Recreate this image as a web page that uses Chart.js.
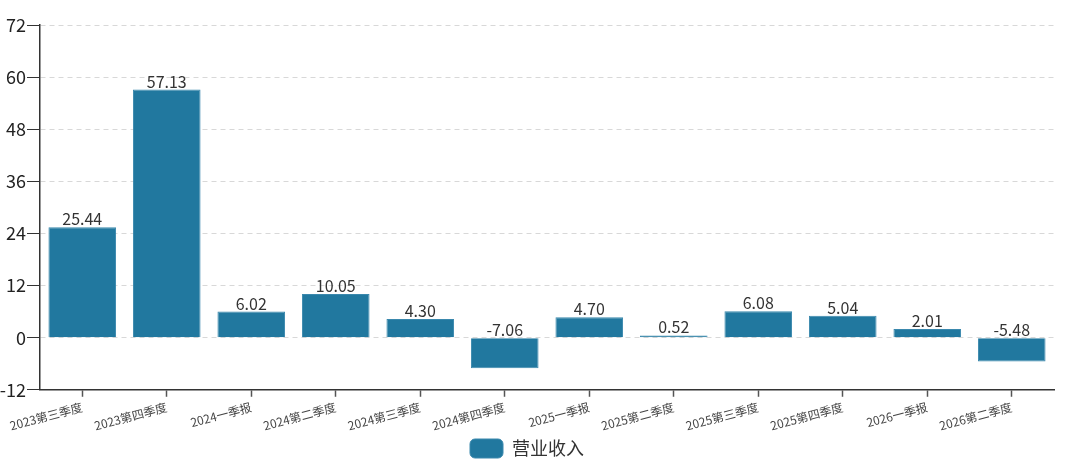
<!DOCTYPE html>
<html>
<head>
<meta charset="utf-8">
<script src="https://cdn.jsdelivr.net/npm/chart.js@4.4.1/dist/chart.umd.min.js"></script>
<style>
  html, body { margin: 0; padding: 0; background: #fff; }
  #wrap { width: 1080px; height: 470px; position: relative; }
</style>
</head>
<body>
<div id="wrap"><canvas id="chart"></canvas></div>
<script>
// chart data
const quarters = ['2023第三季度', '2023第四季度', '2024一季报', '2024第二季度', '2024第三季度', '2024第四季度',
                  '2025一季报', '2025第二季度', '2025第三季度', '2025第四季度', '2026一季报', '2026第二季度'];
const revenue = [25.44, 57.13, 6.02, 10.05, 4.30, -7.06, 4.70, 0.52, 6.08, 5.04, 2.01, -5.48];
const seriesName = '营业收入';
const yMin = -12;
const yMax = 72;
const yStep = 12;

const fontFamily = '"Noto Sans CJK SC", "Noto Sans", sans-serif';

// write the value above each bar (at the zero line for negatives)
const valueLabels = {
    id: 'valueLabels',
    afterDatasetsDraw(chart) {
        const ctx = chart.ctx;
        const meta = chart.getDatasetMeta(0);
        ctx.save();
        ctx.font = '16px ' + fontFamily;
        ctx.fillStyle = '#333';
        ctx.textAlign = 'center';
        ctx.textBaseline = 'bottom';
        meta.data.forEach((bar, i) => {
            const top = Math.min(bar.y, bar.base);
            ctx.fillText(revenue[i].toFixed(2), bar.x, top);
        });
        ctx.restore();
    }
};

new Chart(document.getElementById('chart'), {
    type: 'bar',
    data: {
        labels: quarters,
        datasets: [{
            label: seriesName,
            data: revenue,
            backgroundColor: '#21789f',
            borderColor: '#3a88ad',
            borderWidth: 1,
            barPercentage: 0.8,
            categoryPercentage: 1.0
        }]
    },
    options: {
        responsive: true,
        maintainAspectRatio: false,
        animation: false,
        layout: {
            padding: { top: 25, right: 26, left: 0, bottom: 2 }
        },
        plugins: {
            legend: {
                position: 'bottom',
                labels: {
                    boxWidth: 33,
                    boxHeight: 19,
                    useBorderRadius: true,
                    borderRadius: 5,
                    color: '#333',
                    padding: 6,
                    font: { size: 18, family: fontFamily }
                }
            },
            tooltip: { enabled: false }
        },
        scales: {
            x: {
                offset: true,
                grid: {
                    offset: false,
                    drawOnChartArea: false,
                    drawTicks: true,
                    tickLength: 7,
                    tickColor: '#555',
                    tickWidth: 1.5
                },
                border: { color: '#333', width: 1.5 },
                ticks: {
                    color: '#444',
                    minRotation: 15,
                    maxRotation: 15,
                    autoSkip: false,
                    padding: 3,
                    font: { size: 12, family: fontFamily }
                },
                afterFit(scale) { scale.height -= 3; }
            },
            y: {
                min: yMin,
                max: yMax,
                ticks: {
                    stepSize: yStep,
                    color: '#222',
                    padding: 1,
                    font: { size: 18, family: fontFamily }
                },
                grid: {
                    color: '#d8d8d8',
                    drawTicks: true,
                    tickLength: 13,
                    tickColor: '#333',
                    tickBorderDash: []
                },
                border: { color: '#333', width: 1.5, dash: [5, 4] },
                afterFit(scale) { scale.width = 40; }
            }
        }
    },
    plugins: [valueLabels]
});
</script>
</body>
</html>
